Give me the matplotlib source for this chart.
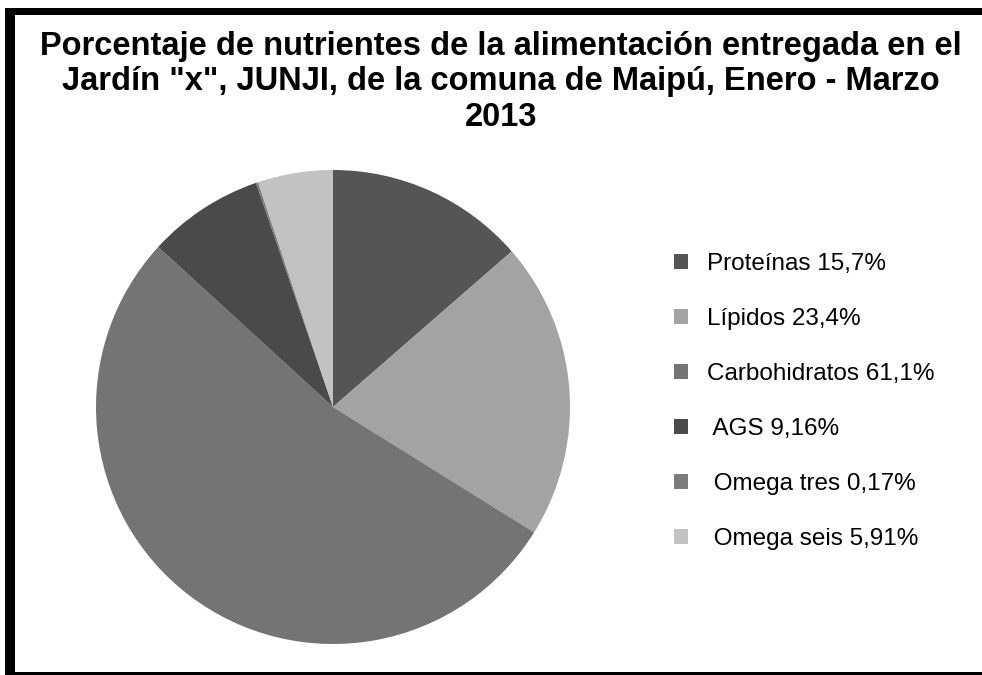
import matplotlib
matplotlib.use("Agg")
import matplotlib.pyplot as plt
from matplotlib.patches import Rectangle, Patch

plt.rcParams['font.family'] = ['Liberation Sans', 'DejaVu Sans']

# data
nutrientes = ['Proteínas', 'Lípidos', 'Carbohidratos', 'AGS', 'Omega tres', 'Omega seis']
valores = [15.7, 23.4, 61.1, 9.16, 0.17, 5.91]
etiquetas = ['Proteínas 15,7%', 'Lípidos 23,4%', 'Carbohidratos 61,1%',
             ' AGS 9,16%', ' Omega tres 0,17%', ' Omega seis 5,91%']
colores = ['#555555', '#a3a3a3', '#747474', '#4a4a4a', '#7c7c7c', '#c2c2c2']
titulo = ('Porcentaje de nutrientes de la alimentación entregada en el\n'
          'Jardín "x", JUNJI, de la comuna de Maipú, Enero - Marzo\n2013')

W, H = 982, 675
fig = plt.figure(figsize=(W/100, H/100), dpi=100)
fig.patch.set_facecolor('white')

# pie axes (center ~ (333,407) px, radius ~237 px)
cx, cy, r = 333, 407, 237
ax = fig.add_axes([(cx-r)/W, (H-cy-r)/H, 2*r/W, 2*r/H])
ax.pie(valores, colors=colores, startangle=90, counterclock=False,
       wedgeprops=dict(linewidth=0))
ax.set_xlim(-1, 1)
ax.set_ylim(-1, 1)
ax.set_aspect('equal')
ax.axis('off')

fig.text(0.51, 1-31/H, titulo, ha='center', va='top', fontsize=23.5,
         fontweight='bold', linespacing=1.18)

handles = [Patch(facecolor=c, edgecolor='none') for c in colores]
fig.legend(handles, etiquetas, loc='upper left', bbox_to_anchor=(664/W, 1-243/H),
           frameon=False, fontsize=17.5, labelspacing=1.36, handlelength=0.58,
           handleheight=0.58, handletextpad=0.8, borderaxespad=0)

# black frame
fig.add_artist(Rectangle((5/W, 0), 10/W, (H-8)/H, transform=fig.transFigure,
                         facecolor='black', edgecolor='none'))
fig.add_artist(Rectangle((5/W, 1-15/H), 1, 7/H, transform=fig.transFigure,
                         facecolor='black', edgecolor='none'))
fig.add_artist(Rectangle((5/W, 0), 1, 3/H, transform=fig.transFigure,
                         facecolor='black', edgecolor='none'))

fig.savefig('out.png', dpi=100)
